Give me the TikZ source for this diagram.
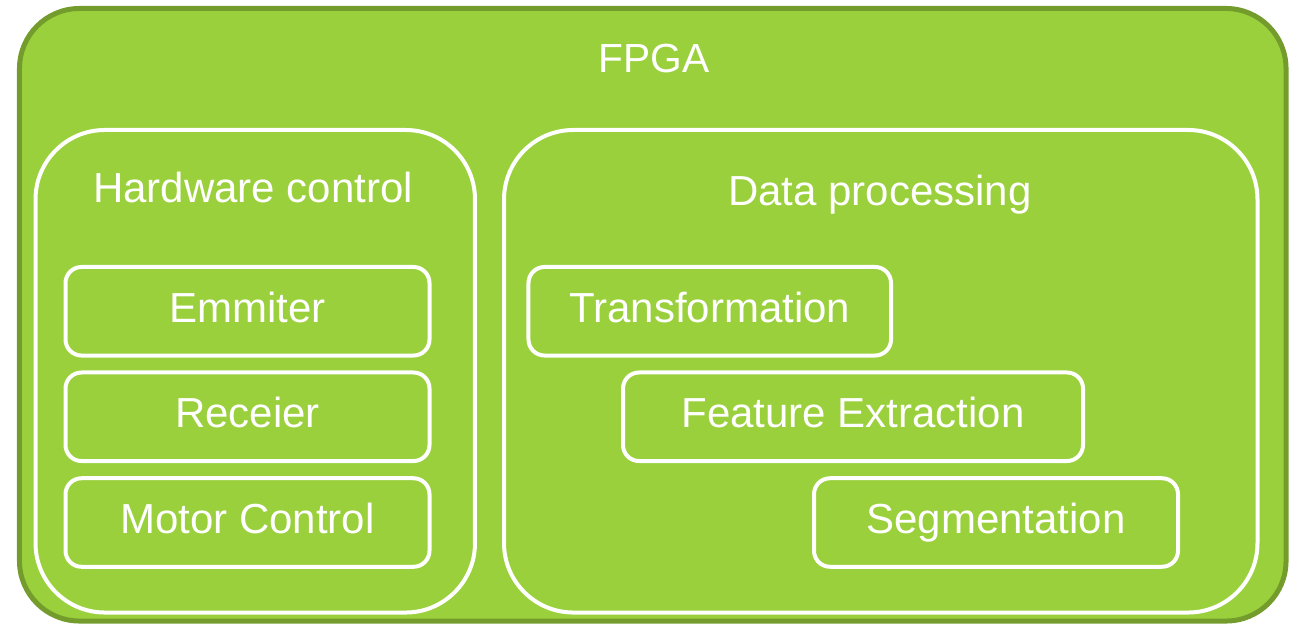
\documentclass[tikz,border=0pt]{standalone}
\usepackage{fontspec}
\setmainfont{Liberation Sans}
\definecolor{fpgafill}{HTML}{9AD03C}
\definecolor{fpgaborder}{HTML}{739C2C}
\begin{document}
\begin{tikzpicture}[x=0.75pt,y=-0.75pt,
  outerbox/.style={draw=fpgaborder,fill=fpgafill,line width=3.75pt,rounded corners=45pt,rectangle,inner sep=0pt},
  groupbox/.style={draw=white,line width=3pt,rounded corners=52pt,rectangle,inner sep=0pt},
  subbox/.style={draw=white,line width=3pt,rounded corners=12pt,rectangle,inner sep=0pt,
    text=white,font=\fontsize{31.5}{38}\selectfont,text height=22.5pt,text depth=6pt,minimum height=66.4pt},
  title/.style={text=white,anchor=base,inner sep=0pt,font=\fontsize{31.5}{38}\selectfont}]
\useasboundingbox (0,0) rectangle (1291,625);
\node[outerbox,minimum width=949.9pt,minimum height=459.4pt] (fpga) at (652.75,314.75) {};
\node[title,font=\fontsize{30.5}{36}\selectfont] (fpgat) at (654,72) {FPGA};
\node[groupbox,minimum width=329.6pt,minimum height=361.9pt] (hw) at (255.25,371.25) {};
\node[groupbox,minimum width=565.1pt,minimum height=361.9pt] (dp) at (880.75,371.25) {};
\node[title] (hwt) at (253,202) {Hardware control};
\node[title] (dpt) at (880,205) {Data processing};
\node[subbox,minimum width=273pt] (em) at (247.5,311.25) {Emmiter};
\node[subbox,minimum width=273pt] (rc) at (247.5,416.75) {Receier};
\node[subbox,minimum width=273pt] (mc) at (247.5,522.5) {Motor Control};
\node[subbox,minimum width=271.9pt] (tr) at (709.75,311.25) {Transformation};
\node[subbox,minimum width=345pt] (fe) at (853,416.75) {Feature Extraction};
\node[subbox,minimum width=273pt] (sg) at (996,522.5) {Segmentation};
\end{tikzpicture}
\end{document}
